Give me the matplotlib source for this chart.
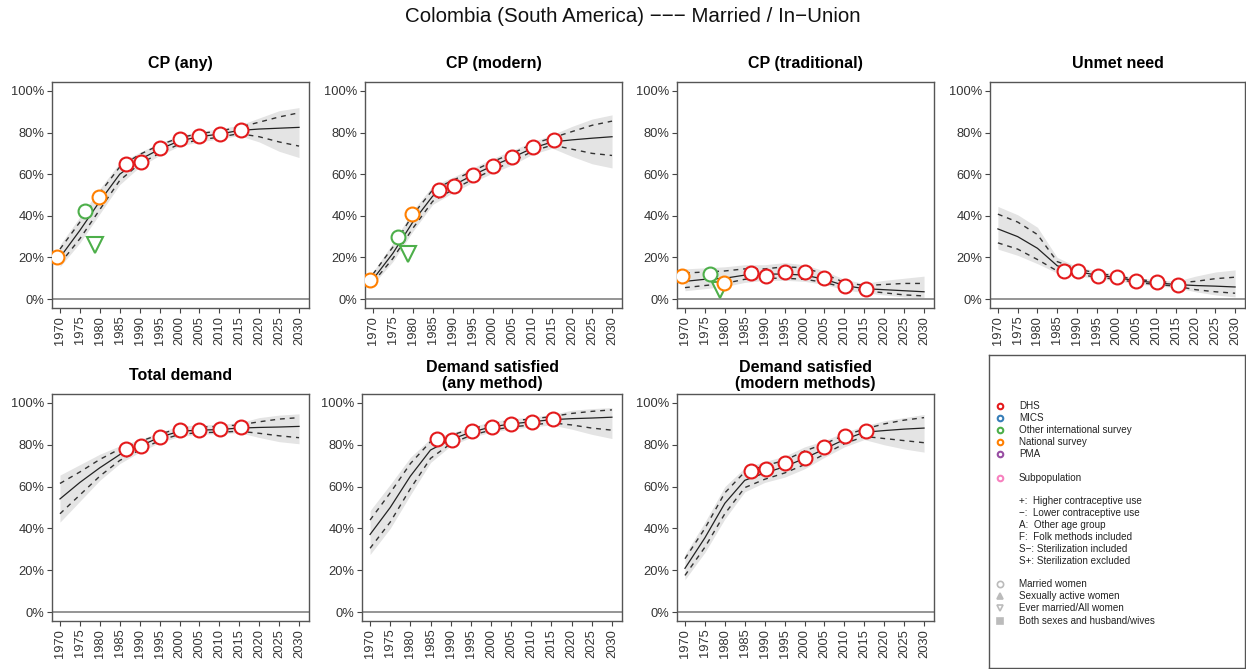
import matplotlib
matplotlib.use("Agg")
import matplotlib.pyplot as plt
import numpy as np

plt.rcParams['font.family'] = ['Liberation Sans', 'DejaVu Sans']

# projection years (5-year steps)
years = [1970, 1975, 1980, 1985, 1990, 1995, 2000, 2005, 2010, 2015, 2020, 2025, 2030]

# CP (any)
cp_any_med  = [20, 33, 47, 60, 67, 72, 76, 78, 79.3, 81, 81.7, 82.1, 82.5]
cp_any_lo80 = [17, 29, 43, 57, 65, 70, 74.5, 76.5, 77.8, 79.5, 78, 75.5, 73.5]
cp_any_hi80 = [24, 37, 51, 63.5, 69.5, 74, 77.5, 79.5, 80.8, 82.5, 85, 87.5, 89.5]
cp_any_lo95 = [15.5, 27, 41, 55, 63.5, 69, 73.5, 75.5, 77, 78.5, 75.5, 71, 68]
cp_any_hi95 = [26, 39.5, 53, 65.5, 70.5, 75, 78.5, 80.5, 81.8, 83.5, 87, 90.5, 92]

# CP (modern)
cp_mod_med  = [9.5, 22, 37, 49.5, 54.5, 59.5, 64, 68, 72.5, 75.5, 76.5, 77.3, 78]
cp_mod_lo80 = [8, 19.5, 34, 47, 52.5, 57.5, 62, 66, 71, 74, 72, 70, 69]
cp_mod_hi80 = [12, 25, 40.5, 52.5, 57, 61.5, 66, 70, 74.5, 77.5, 80.5, 83.5, 85.5]
cp_mod_lo95 = [7, 18, 32.5, 45.5, 51, 56, 60.5, 64.5, 69.5, 72.5, 68.5, 65, 63]
cp_mod_hi95 = [13, 27, 42.5, 54.5, 58.5, 63, 67.5, 71.5, 75.5, 79, 83, 86.5, 88.5]

# CP (traditional)
cp_trad_med  = [8.5, 9.5, 10, 11.5, 12, 12, 11.5, 9.5, 6.5, 5, 4.5, 4, 3.5]
cp_trad_lo80 = [5.5, 6.5, 7.5, 9.5, 10, 10, 9.5, 8, 5.5, 4, 3, 2, 1.5]
cp_trad_hi80 = [12.5, 13, 13.5, 14.5, 14.5, 15.5, 15, 12, 8, 6.5, 7, 7.5, 7.5]
cp_trad_lo95 = [4, 5, 6, 8, 9, 9, 8.5, 7, 4.5, 3, 2, 1, 0.5]
cp_trad_hi95 = [14.5, 15, 15.5, 16.5, 16.5, 17.5, 16.5, 13.5, 9.5, 7.5, 9, 10, 11]

# Unmet need
unmet_med  = [33.7, 30, 24.4, 16, 13.2, 11.5, 10.3, 8.8, 7.8, 7, 6.5, 6.2, 5.8]
unmet_lo80 = [27, 24, 19, 13.5, 12, 10.5, 9.5, 8, 7, 6.2, 4.5, 3.5, 2.8]
unmet_hi80 = [40.8, 37, 31, 18, 14.5, 12.5, 11, 9.5, 8.5, 7.8, 8.5, 9.8, 10.5]
unmet_lo95 = [24, 21, 17, 12.5, 11.2, 9.8, 8.8, 7.3, 6.3, 5.5, 3.5, 2, 1]
unmet_hi95 = [44.5, 40.5, 34.5, 20, 15.5, 13.5, 12, 10.3, 9.3, 8.5, 11, 13, 14]

# Total demand
tot_med  = [54.1, 62, 69, 75.3, 79.3, 83.6, 86.5, 87, 87.3, 88, 88.3, 88.5, 88.8]
tot_lo80 = [47, 56, 65, 72.5, 77.5, 82, 85, 85.8, 86, 86.5, 85.5, 84.3, 83.4]
tot_hi80 = [61.5, 67, 73, 78, 81.5, 85, 88, 88.5, 88.8, 89.5, 91, 92.3, 93]
tot_lo95 = [43, 53, 63, 71, 76.5, 81, 84, 85, 85.3, 85.8, 83.5, 81.5, 80.5]
tot_hi95 = [65.5, 70.5, 75.5, 79.5, 82.5, 86, 89, 89.5, 89.8, 90.5, 93, 94.2, 94.8]

# Demand satisfied (any method)
dsa_med  = [37.1, 50, 65, 77.5, 82.5, 86, 88.5, 90, 91, 92, 92.5, 92.8, 93.2]
dsa_lo80 = [30.5, 43, 59, 73.5, 80.5, 84.5, 87, 88.5, 89.5, 90.5, 89.5, 88, 87]
dsa_hi80 = [44, 57, 71, 81.5, 84.5, 87.5, 90, 91.5, 92.3, 93.5, 95, 96, 96.7]
dsa_lo95 = [27.5, 40, 56, 71.5, 79.5, 83.5, 86, 87.5, 88.5, 89.5, 87.5, 85, 83]
dsa_hi95 = [48.5, 61, 74, 83, 85.5, 88.5, 91, 92.5, 93.2, 94.5, 96.5, 97.3, 97.8]

# Demand satisfied (modern methods)
dsm_med  = [20.9, 35.5, 52, 63, 66.5, 69.5, 73.5, 78, 82.5, 86, 86.8, 87.5, 88]
dsm_lo80 = [17.5, 31, 47, 59.5, 63.5, 66.5, 70.5, 75.5, 80.5, 84, 83, 82, 81]
dsm_hi80 = [25.5, 40, 57, 67, 70, 72.5, 77, 80.5, 84.5, 87.5, 90, 91.8, 93]
dsm_lo95 = [15.5, 28.5, 44.5, 57.5, 62, 64.5, 68.5, 74, 79, 82.5, 80, 78, 76.5]
dsm_hi95 = [27.5, 43, 60, 69, 72, 74.5, 79, 82, 86, 89, 91.5, 93, 94.5]

# observations
dhs_years = [1986.6, 1990.3, 1995.2, 2000.2, 2005.0, 2010.2, 2015.5]
early_years = [1969.2, 1976.3, 1978.7, 1979.8]
early_src = ['National survey', 'Other international survey',
             'Other international survey', 'National survey']
early_shape = ['o', 'o', 'v', 'o']

cp_any_dhs = [64.9, 66.0, 72.4, 76.7, 78.4, 79.1, 81.2]
cp_any_early = [20.4, 42.3, 26.0, 49.2]
cp_mod_dhs = [52.4, 54.5, 59.6, 64.0, 68.4, 73.3, 76.4]
cp_mod_early = [9.3, 30.0, 21.5, 40.9]
cp_trad_dhs = [12.6, 11.3, 12.9, 12.9, 10.2, 6.1, 4.8]
cp_trad_early = [11.2, 12.0, 4.5, 7.5]
unmet_dhs = [13.6, 13.6, 11.3, 10.4, 8.6, 8.1, 6.9]
tot_dhs = [78.2, 79.5, 83.6, 86.9, 86.9, 87.4, 88.4]
dsa_dhs = [82.8, 82.5, 86.6, 88.5, 90.1, 90.9, 92.4]
dsm_dhs = [67.4, 68.6, 71.2, 73.7, 78.8, 84.1, 86.8]

titles = ['CP (any)', 'CP (modern)', 'CP (traditional)', 'Unmet need',
          'Total demand', 'Demand satisfied\n(any method)',
          'Demand satisfied\n(modern methods)']

src_names = ['DHS', 'MICS', 'Other international survey', 'National survey', 'PMA']
src_colors = {'DHS': '#E41A1C', 'MICS': '#377EB8',
              'Other international survey': '#4DAF4A',
              'National survey': '#FF7F00', 'PMA': '#984EA3',
              'Subpopulation': '#F781BF'}

notes = ['+:  Higher contraceptive use', '\u2212:  Lower contraceptive use',
         'A:  Other age group', 'F:  Folk methods included',
         'S\u2212: Sterilization included', 'S+: Sterilization excluded']
pop_names = ['Married women', 'Sexually active women',
             'Ever married/All women', 'Both sexes and husband/wives']
pop_shapes = ['o', '^', 'v', 's']

panels = [
    (cp_any_med, cp_any_lo80, cp_any_hi80, cp_any_lo95, cp_any_hi95, cp_any_dhs, cp_any_early),
    (cp_mod_med, cp_mod_lo80, cp_mod_hi80, cp_mod_lo95, cp_mod_hi95, cp_mod_dhs, cp_mod_early),
    (cp_trad_med, cp_trad_lo80, cp_trad_hi80, cp_trad_lo95, cp_trad_hi95, cp_trad_dhs, cp_trad_early),
    (unmet_med, unmet_lo80, unmet_hi80, unmet_lo95, unmet_hi95, unmet_dhs, None),
    (tot_med, tot_lo80, tot_hi80, tot_lo95, tot_hi95, tot_dhs, None),
    (dsa_med, dsa_lo80, dsa_hi80, dsa_lo95, dsa_hi95, dsa_dhs, None),
    (dsm_med, dsm_lo80, dsm_hi80, dsm_lo95, dsm_hi95, dsm_dhs, None),
]

# axes rectangles in pixels (left, right, top, bottom) of a 1246x669 figure
W, H = 1246, 669
boxes = [(52, 309, 82, 308), (365, 622, 82, 308), (677, 934, 82, 308), (990, 1245, 82, 308),
         (52, 309, 394, 621), (362, 622, 394, 621), (677, 934, 394, 621)]

fig = plt.figure(figsize=(W / 100, H / 100), dpi=100)
fig.text(633 / W, 1 - 17 / H, 'Colombia (South America) \u2212\u2212\u2212 Married / In\u2212Union',
         ha='center', va='center', fontsize=14.8, color='#111111')

spine_col = '#555555'
for (l, r, t, b), title, p in zip(boxes, titles, panels):
    med, lo80, hi80, lo95, hi95, dhs, early = p
    ax = fig.add_axes([l / W, 1 - b / H, (r - l) / W, (b - t) / H])
    ax.fill_between(years, lo95, hi95, color='#e4e4e4', lw=0, zorder=1)
    ax.axhline(0, color='#8c8c8c', lw=1.3, zorder=1)
    ax.plot(years, med, color='#222222', lw=0.9, zorder=2)
    ax.plot(years, lo80, color='#333333', lw=1.0, ls=(0, (3.5, 3.5)), zorder=2)
    ax.plot(years, hi80, color='#333333', lw=1.0, ls=(0, (3.5, 3.5)), zorder=2)
    if early is not None:
        for yr, v, s, m in zip(early_years, early, early_src, early_shape):
            ax.plot(yr, v, marker=m, ms=10 if m == 'o' else 11, mfc='white',
                    mec=src_colors[s], mew=1.5, ls='none', zorder=3)
    ax.plot(dhs_years, dhs, marker='o', ms=10, mfc='white', mec=src_colors['DHS'],
            mew=1.5, ls='none', zorder=4)
    ax.set_xlim(1968.0, 2032.5)
    ax.set_ylim(-4.3, 104.3)
    ax.set_xticks(np.arange(1970, 2031, 5))
    ax.set_xticklabels([str(v) for v in range(1970, 2031, 5)], rotation=90)
    ax.set_yticks(np.arange(0, 101, 20))
    ax.set_yticklabels(['%d%%' % v for v in range(0, 101, 20)])
    ax.tick_params(labelsize=9.3, colors='#444444', length=3.5, width=0.8,
                   labelcolor='#333333', pad=2)
    for sp in ax.spines.values():
        sp.set_color(spine_col)
        sp.set_linewidth(1.0)
    ax.annotate(title, xy=(0.5, 1), xycoords='axes fraction', xytext=(0, 13.5),
                textcoords='offset points', ha='center', va='center',
                fontsize=11.5, fontweight='bold', linespacing=1.05)

# legend box
lx, rx, ty, by = 989, 1245, 355, 668
lg = fig.add_axes([lx / W, 1 - by / H, (rx - lx) / W, (by - ty) / H])
lg.set_xlim(0, 1)
lg.set_ylim(0, 1)
lg.set_xticks([])
lg.set_yticks([])
for sp in lg.spines.values():
    sp.set_color(spine_col)
    sp.set_linewidth(1.0)

mx, tx = 0.043, 0.117
step = 0.0385
fs = 7.1
y0 = 0.837
for i, s in enumerate(src_names):
    y = y0 - i * step
    lg.plot(mx, y, marker='o', ms=4, mfc='none', mec=src_colors[s], mew=1.5)
    lg.text(tx, y, s, fontsize=fs, va='center', color='#222222')
y = y0 - 5 * step - step
lg.plot(mx, y, marker='o', ms=4, mfc='none', mec=src_colors['Subpopulation'], mew=1.5)
lg.text(tx, y, 'Subpopulation', fontsize=fs, va='center', color='#222222')
y1 = y - 1.9 * step
for i, s in enumerate(notes):
    lg.text(tx, y1 - i * step, s, fontsize=fs, va='center', color='#222222')
y2 = y1 - 5 * step - 1.9 * step
for i, (s, m) in enumerate(zip(pop_names, pop_shapes)):
    yy = y2 - i * step
    lg.plot(mx, yy, marker=m, ms=4.5 if m != 's' else 4, mfc='#bbbbbb' if m in '^s' else 'none',
            mec='#bbbbbb', mew=1.2)
    lg.text(tx, yy, s, fontsize=fs, va='center', color='#222222')

fig.savefig('out.png', dpi=100)
